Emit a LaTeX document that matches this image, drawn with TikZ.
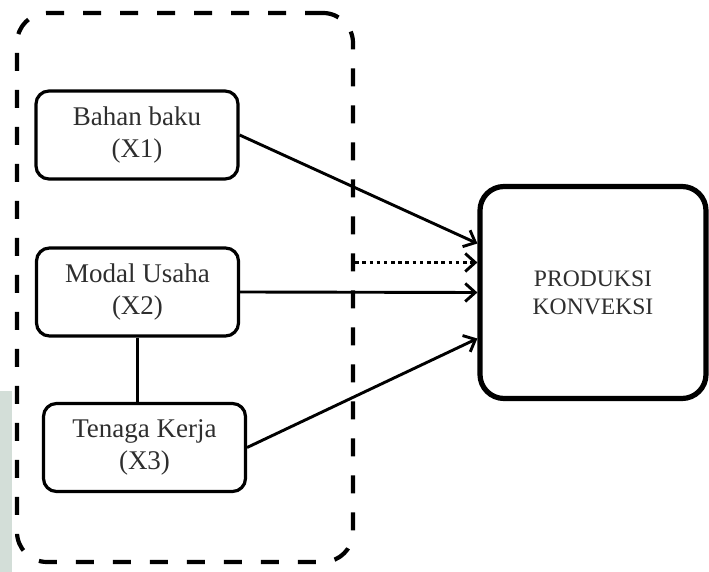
\documentclass[tikz,border=0pt]{standalone}
\usepackage{fontspec}
\setmainfont{Liberation Serif}
\usetikzlibrary{arrows.meta,positioning}
\definecolor{txtgray}{HTML}{2E2E2E}
\definecolor{sidegreen}{HTML}{D3DED8}
\begin{document}
\begin{tikzpicture}[x=0.5pt,y=-0.5pt,
  varbox/.style={draw,line width=1.6pt,rounded corners=6.5pt,minimum width=101pt,minimum height=44pt,
    align=center,inner sep=0pt,text=txtgray,font=\fontsize{13.5}{16}\selectfont},
  outbox/.style={draw,line width=2.6pt,rounded corners=12pt,minimum width=113pt,minimum height=106pt,
    align=center,inner sep=0pt,text=txtgray,font=\fontsize{11.8}{14}\selectfont},
  grpbox/.style={draw,line width=2.1pt,rounded corners=15pt,dash pattern=on 9pt off 9.5pt,
    minimum width=168pt,minimum height=274.5pt,inner sep=0pt},
  lnk/.style={line width=1.45pt,-{Straight Barb[length=5pt,width=9pt]}},
  dotlnk/.style={lnk,dash pattern=on 1.8pt off 1.8pt}]
\useasboundingbox (0,0) rectangle (709,572);
\fill[sidegreen] (0,391) rectangle (12,572);
% dashed group round the inputs
\node[grpbox] (grp) at (185,287.5) {};
% variables
\node[varbox] (x1) at (137,135) {Bahan baku\\(X1)};
\node[varbox] (x2) at (137.5,292) {Modal Usaha\\(X2)};
\node[varbox] (x3) at (144.5,447.5) {Tenaga Kerja\\(X3)};
\node[outbox] (prod) at (593,292.5) {PRODUKSI\\KONVEKSI};
% arrow ends on the output box
\coordinate (p1) at ([yshift=24.5pt]prod.west);
\coordinate (p0) at ([yshift=15pt]prod.west);
\coordinate (p3) at ([yshift=-23pt]prod.west);
\draw[line width=1.45pt](x2.south)--(x2.south|-x3.north);
\draw[lnk](x1.east)--(p1);
\draw[lnk](x2.east)--(prod.west);
\draw[lnk](x3.east)--(p3);
\draw[dotlnk](grp.east|-p0)--(p0);
\end{tikzpicture}
\end{document}
